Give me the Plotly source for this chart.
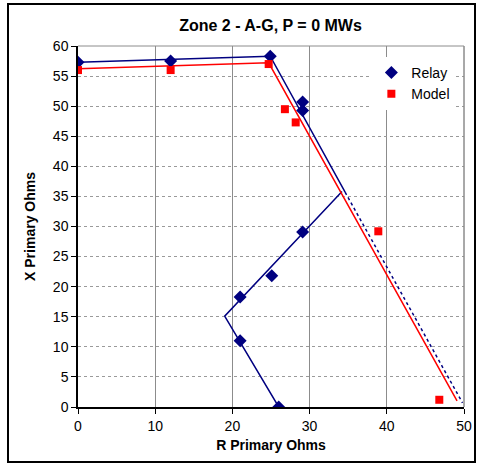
import plotly.graph_objects as go

# Measured points
relay_r = [0, 12, 24.9, 29.1, 29.1, 29.1, 25.1, 21.0, 21.0, 26.0]
relay_x = [57.3, 57.5, 58.3, 50.7, 49.3, 29.1, 21.8, 18.3, 11.0, 0.0]
model_r = [0, 12, 24.7, 26.8, 28.2, 38.9, 46.8]
model_x = [56.0, 56.0, 57.0, 49.5, 47.3, 29.2, 1.2]

# Characteristic lines
relay_top_r = [0, 24.9, 34.6]
relay_top_x = [57.3, 58.3, 35.7]
relay_dash_r = [34.6, 49.8]
relay_dash_x = [35.7, 0.7]
relay_low_r = [34.2, 19.0, 26.0]
relay_low_x = [35.8, 15.1, 0.0]
model_line_r = [0, 24.7, 49.1]
model_line_x = [56.2, 57.2, 1.0]

NAVY = "#000080"
RED = "#FF0000"

fig = go.Figure()
fig.add_trace(go.Scatter(x=relay_top_r, y=relay_top_x, mode="lines",
                         line=dict(color=NAVY, width=1.5), showlegend=False, hoverinfo="skip"))
fig.add_trace(go.Scatter(x=relay_dash_r, y=relay_dash_x, mode="lines",
                         line=dict(color=NAVY, width=1.5, dash="3px,3px"), showlegend=False, hoverinfo="skip"))
fig.add_trace(go.Scatter(x=relay_low_r, y=relay_low_x, mode="lines",
                         line=dict(color=NAVY, width=1.5), showlegend=False, hoverinfo="skip"))
fig.add_trace(go.Scatter(x=model_line_r, y=model_line_x, mode="lines",
                         line=dict(color=RED, width=1.5), showlegend=False, hoverinfo="skip"))
fig.add_trace(go.Scatter(x=relay_r, y=relay_x, mode="markers", name="Relay",
                         marker=dict(symbol="diamond", size=10, color=NAVY)))
fig.add_trace(go.Scatter(x=model_r, y=model_x, mode="markers", name="Model",
                         marker=dict(symbol="square", size=8, color=RED)))

axis_font = dict(family="Liberation Sans, Arial, sans-serif", size=14, color="#000")
fig.update_layout(
    width=483, height=470,
    margin=dict(l=78, r=19, t=46, b=63),
    paper_bgcolor="white", plot_bgcolor="white",
    font=dict(family="Liberation Sans, Arial, sans-serif", color="#000"),
    title=dict(text="<b>Zone 2 - A-G, P = 0 MWs</b>", x=0.56, xanchor="center",
               y=1 - 25 / 470, yanchor="middle", font=dict(size=16, color="#000")),
    xaxis=dict(range=[0, 50], dtick=10, tickfont=axis_font,
               title=dict(text="<b>R Primary Ohms</b>", font=dict(size=14), standoff=8),
               showgrid=True, gridcolor="#8c8c8c", gridwidth=1,
               showline=True, linecolor="#000", linewidth=1.5, mirror=False,
               ticks="outside", ticklen=5, tickcolor="#000", zeroline=False, fixedrange=True),
    yaxis=dict(range=[0, 60], dtick=5, tickfont=axis_font,
               title=dict(text="<b>X Primary Ohms</b>", font=dict(size=14), standoff=14),
               showgrid=True, gridcolor="#9a9a9a", gridwidth=1, griddash="dot",
               showline=True, linecolor="#000", linewidth=1.5,
               ticks="outside", ticklen=5, tickcolor="#000", zeroline=False, fixedrange=True),
    legend=dict(x=0.76, y=0.97, xanchor="left", yanchor="top",
                bgcolor="white", font=dict(size=14, color="#000"),
                itemsizing="trace", itemwidth=30, tracegroupgap=4),
    shapes=[
        dict(type="rect", xref="paper", yref="paper", x0=1, x1=1, y0=0, y1=1,
             line=dict(color="#8c8c8c", width=1)),
        dict(type="line", xref="paper", yref="paper", x0=0, x1=1, y0=1, y1=1,
             line=dict(color="#8c8c8c", width=1)),
        dict(type="rect", xref="paper", yref="paper",
             x0=(8 - 78) / 386, x1=(475 - 78) / 386,
             y0=(407 - 462) / 361, y1=(407 - 4) / 361,
             line=dict(color="#000", width=2), layer="above"),
    ],
)

fig.write_html("out.html")
